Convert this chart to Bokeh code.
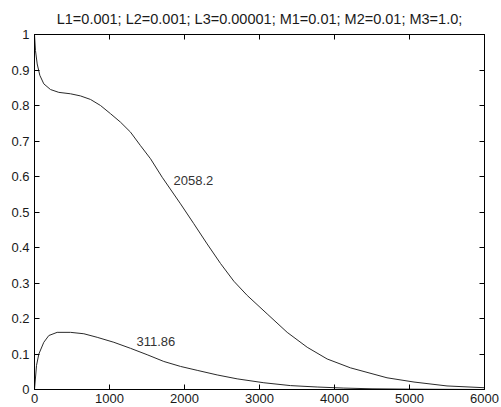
from bokeh.plotting import figure
from bokeh.models import LinearAxis, FixedTicker, CustomJSTickFormatter, Range1d
from bokeh.core.properties import value
from bokeh.embed import file_html
from bokeh.resources import INLINE

# ---- data ----
title_text = "L1=0.001; L2=0.001; L3=0.00001; M1=0.01; M2=0.01; M3=1.0;"

upper_x = [0, 13, 36, 71, 124, 213, 324, 480, 613, 747, 880, 1013, 1147, 1280,
           1413, 1547, 1702, 1947, 2124, 2302, 2480, 2658, 2836, 3102, 3369,
           3636, 3902, 4213, 4700, 5060, 5500, 6000]
upper_y = [1.0, 0.955, 0.917, 0.885, 0.861, 0.845, 0.837, 0.833, 0.827, 0.817,
           0.800, 0.777, 0.753, 0.725, 0.687, 0.650, 0.598, 0.523, 0.467,
           0.410, 0.355, 0.305, 0.265, 0.213, 0.161, 0.119, 0.086, 0.061,
           0.033, 0.021, 0.010, 0.005]

lower_x = [0, 27, 58, 124, 191, 302, 480, 658, 836, 1058, 1280, 1502, 1724,
           1947, 2169, 2436, 2702, 3058, 3413, 3769, 4124, 4500, 5000, 6000]
lower_y = [0.0, 0.068, 0.100, 0.133, 0.152, 0.161, 0.161, 0.157, 0.147, 0.133,
           0.116, 0.098, 0.079, 0.065, 0.054, 0.041, 0.030, 0.019, 0.011,
           0.007, 0.004, 0.002, 0.001, 0.0]

label_texts = ["2058.2", "311.86"]
label_x = [1853, 1360]
label_y = [0.589, 0.135]

x_ticks = [0, 1000, 2000, 3000, 4000, 5000, 6000]
y_ticks = [0, 0.1, 0.2, 0.3, 0.4, 0.5, 0.6, 0.7, 0.8, 0.9, 1]
y_tick_labels = ["0", "0.1", "0.2", "0.3", "0.4", "0.5", "0.6", "0.7", "0.8", "0.9", "1"]

FONT = "Liberation Sans"
INK = "#1a1a1a"

p = figure(width=501, height=407, output_backend="svg", toolbar_location=None,
           x_range=Range1d(0, 6000), y_range=Range1d(0, 1),
           min_border_left=34, min_border_right=17, min_border_top=34,
           min_border_bottom=18)
p.title.text = title_text
p.title.align = "center"
p.title.offset = 9
p.title.text_font = FONT
p.title.text_font_size = "14.5px"
p.title.text_font_style = "normal"
p.title.text_color = INK
p.title.standoff = 16

p.background_fill_color = "white"
p.border_fill_color = "white"
p.outline_line_color = "black"
p.outline_line_width = 1
p.xgrid.visible = False
p.ygrid.visible = False

p.line(upper_x, upper_y, line_color="#2a2a2a", line_width=1)
p.line(lower_x, lower_y, line_color="#2a2a2a", line_width=1)
p.text(x=label_x, y=label_y, text=label_texts, text_font=value(FONT),
       text_font_size="13px", text_color="#333333", text_align="left",
       text_baseline="middle")

blank = CustomJSTickFormatter(code="return ''")

def style(ax, ticks):
    ax.ticker = FixedTicker(ticks=ticks)
    ax.major_tick_in = 5
    ax.major_tick_out = 0
    ax.minor_tick_line_color = None
    ax.axis_line_color = "black"
    ax.major_tick_line_color = "black"
    ax.major_label_text_font = FONT
    ax.major_label_text_font_size = "13px"
    ax.major_label_text_color = INK

xa = p.xaxis[0]
style(xa, x_ticks)
xa.major_label_standoff = 4
ya = p.yaxis[0]
style(ya, y_ticks)
ya.major_label_overrides = {t: s for t, s in zip(y_ticks, y_tick_labels)}
ya.major_label_standoff = 5

top = LinearAxis(formatter=blank)
style(top, x_ticks)
top.major_label_standoff = 0
top.major_label_text_font_size = "1px"
p.add_layout(top, "above")
right = LinearAxis(formatter=blank)
style(right, y_ticks)
right.major_label_standoff = 0
right.major_label_text_font_size = "1px"
p.add_layout(right, "right")

open("out.html", "w").write(file_html(p, INLINE))
